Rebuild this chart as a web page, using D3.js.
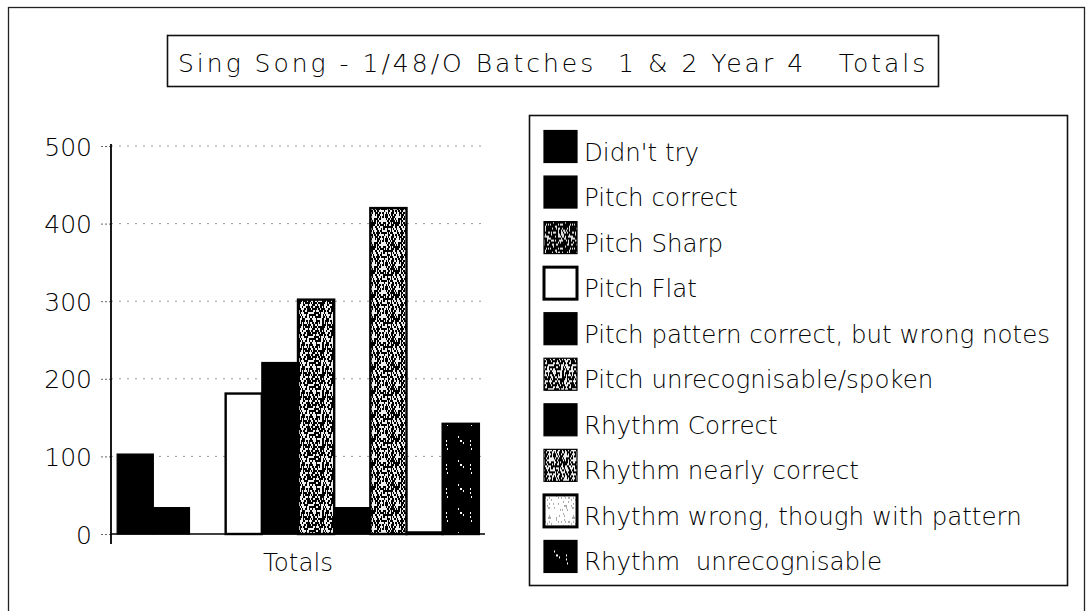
<!DOCTYPE html>
<html>
<head>
<meta charset="utf-8">
<script src="https://cdn.jsdelivr.net/npm/d3@7"></script>
<style>
  html, body { margin: 0; padding: 0; background: #fff; }
  svg { display: block; }
  text { font-family: "DejaVu Sans", Verdana, sans-serif; font-weight: 200; fill: #000; }
</style>
</head>
<body>
<svg id="chart" width="1091" height="611"></svg>
<script>
// ---- data ----
const titleText = "Sing Song - 1/48/O Batches  1 & 2 Year 4   Totals";
const categories = ["Totals"];
const seriesNames = [
  "Didn't try",
  "Pitch correct",
  "Pitch Sharp",
  "Pitch Flat",
  "Pitch pattern correct, but wrong notes",
  "Pitch unrecognisable/spoken",
  "Rhythm Correct",
  "Rhythm nearly correct",
  "Rhythm wrong, though with pattern",
  "Rhythm  unrecognisable"
];
const seriesValues = [103, 34, 0, 181, 221, 302, 34, 420, 2, 142];
const yTicks = [0, 100, 200, 300, 400, 500];

// ---- fill kind per series ----
const seriesFills = ["solid", "solid", "sharp", "white", "solid", "unrec", "solid", "nearly", "wrong", "rhyunrec"];

const svg = d3.select("#chart");
svg.append("rect").attr("width", 1091).attr("height", 611).attr("fill", "#fff");

// textures
const defs = svg.append("defs");
function hash(i, j, s) {
  const h = Math.sin(i * 12.9898 + j * 78.233 + s * 37.719) * 43758.5453;
  return h - Math.floor(h);
}
function speckle(id, bg, fg, density, seed) {
  const p = defs.append("pattern").attr("id", id)
    .attr("patternUnits", "userSpaceOnUse").attr("width", 24).attr("height", 24);
  p.append("rect").attr("width", 24).attr("height", 24).attr("fill", bg);
  const cells = [];
  for (let i = 0; i < 24; i++) for (let j = 0; j < 12; j++) {
    if (hash(i, j, seed) < density) cells.push([i, j * 2]);
  }
  p.selectAll("rect.s").data(cells).join("rect").attr("class", "s")
    .attr("x", d => d[0]).attr("y", d => d[1]).attr("width", 1).attr("height", 2).attr("fill", fg);
}
speckle("sharp", "#000", "#ddd", 0.30, 1);
speckle("unrec", "#000", "#eee", 0.40, 2);
speckle("nearly", "#000", "#eee", 0.45, 3);
speckle("wrong", "#fff", "#aaa", 0.10, 4);
speckle("rhyunrec", "#000", "#fff", 0.05, 5);
function fillOf(k) {
  if (k === "solid") return "#000";
  if (k === "white") return "#fff";
  return "url(#" + k + ")";
}

// outer frame
svg.append("rect").attr("x", 8.5).attr("y", 7.5).attr("width", 1076).attr("height", 640)
  .attr("fill", "none").attr("stroke", "#222").attr("stroke-width", 1.3);

// title
svg.append("rect").attr("x", 167.5).attr("y", 35.5).attr("width", 771).attr("height", 51)
  .attr("fill", "#fff").attr("stroke", "#111").attr("stroke-width", 1.6);
svg.append("text").attr("x", 178).attr("y", 72)
  .attr("font-size", 25).attr("letter-spacing", 3.0)
  .style("white-space", "pre").text(titleText);

// scales
const plotLeft = 111, plotRight = 485, plotTop = 146, plotBottom = 534;
const x0 = d3.scaleBand().domain(categories).range([plotLeft, plotRight]).paddingInner(0).paddingOuter(0.017);
const x1 = d3.scaleBand().domain(seriesNames).range([0, x0.bandwidth()]).padding(0);
const y = d3.scaleLinear().domain([0, 500]).range([plotBottom, plotTop]);

// gridlines
svg.append("g").selectAll("line").data(yTicks.filter(t => t > 0)).join("line")
  .attr("x1", plotLeft).attr("x2", plotRight)
  .attr("y1", d => y(d)).attr("y2", d => y(d))
  .attr("stroke", "#999").attr("stroke-width", 1).attr("stroke-dasharray", "2,6");

// y axis
const yAxis = svg.append("g").attr("transform", `translate(${plotLeft},0)`)
  .call(d3.axisLeft(y).tickValues(yTicks).tickSize(10).tickPadding(9));
yAxis.select(".domain").remove();
yAxis.selectAll(".tick line").attr("stroke", "#666").attr("stroke-dasharray", "2,2");
yAxis.selectAll(".tick text").attr("font-size", 25).attr("font-family", "DejaVu Sans")
  .attr("font-weight", 200).attr("fill", "#000").attr("dy", "0.36em");
svg.append("line").attr("x1", plotLeft).attr("x2", plotLeft).attr("y1", plotTop - 2).attr("y2", plotBottom + 10)
  .attr("stroke", "#000").attr("stroke-width", 1.8);

// bars
const g = svg.append("g");
categories.forEach(cat => {
  g.selectAll("rect.bar").data(seriesNames.map((s, i) => ({ s, i, v: seriesValues[i] })))
    .join("rect").attr("class", "bar")
    .attr("x", d => x0(cat) + x1(d.s))
    .attr("y", d => y(d.v))
    .attr("width", x1.bandwidth())
    .attr("height", d => y(0) - y(d.v))
    .attr("fill", d => fillOf(seriesFills[d.i]))
    .attr("stroke", "#000")
    .attr("stroke-width", d => seriesFills[d.i] === "solid" ? 1.2 : 2.4);
});

// x axis
svg.append("line").attr("x1", plotLeft).attr("x2", plotRight).attr("y1", plotBottom).attr("y2", plotBottom)
  .attr("stroke", "#000").attr("stroke-width", 1.6);
svg.append("g").selectAll("text").data(categories).join("text")
  .attr("x", d => x0(d) + x0.bandwidth() / 2).attr("y", 571)
  .attr("text-anchor", "middle").attr("font-size", 24.5).text(d => d);

// legend
svg.append("rect").attr("x", 529.5).attr("y", 115.5).attr("width", 538).attr("height", 470)
  .attr("fill", "#fff").attr("stroke", "#111").attr("stroke-width", 1.6);
const leg = svg.append("g").selectAll("g").data(seriesNames).join("g")
  .attr("transform", (d, i) => `translate(0,${160.5 + i * 45.55})`);
leg.append("rect").attr("x", 544).attr("y", -30).attr("width", 33).attr("height", 32)
  .attr("fill", (d, i) => fillOf(seriesFills[i]))
  .attr("stroke", "#000").attr("stroke-width", (d, i) => seriesFills[i] === "white" || seriesFills[i] === "wrong" ? 3 : 1.2);
leg.append("text").attr("x", 584).attr("y", 0).attr("font-size", 24.5)
  .style("white-space", "pre").text(d => d);
</script>
</body>
</html>
